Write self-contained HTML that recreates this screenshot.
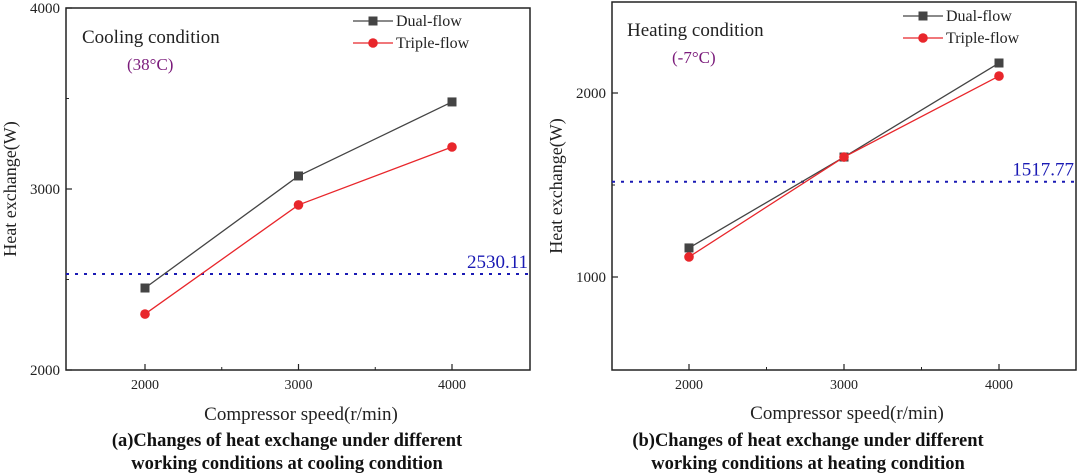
<!DOCTYPE html>
<html><head><meta charset="utf-8"><style>
html,body{margin:0;padding:0;background:#fff;}
svg{display:block;font-family:"Liberation Serif",serif;}
</style></head><body>
<svg id="s" width="1078" height="474"></svg>
<script>
const categories=[2000,3000,4000];
const coolDual=[2453,3072,3481];
const coolTriple=[2309,2912,3232];
const coolRef=[2530.11];
const heatDual=[1158,1652,2163];
const heatTriple=[1109,1652,2092];
const heatRef=[1517.77];
const coolYTicks=[2000,3000,4000];
const heatYTicks=[1000,2000];
const xTicks=[2000,3000,4000];

const NS="http://www.w3.org/2000/svg";
const svg=document.getElementById('s');
function el(t,a,p){const e=document.createElementNS(NS,t);for(const k in a)e.setAttribute(k,a[k]);(p||svg).appendChild(e);return e;}
function txt(s,a,p){const e=el('text',a,p);e.textContent=s;return e;}

function panel(cfg){
  const g=el('g',{});
  
  
  const X=v=>cfg.x0+(v-2000)/1000*cfg.xs;
  const Y=v=>cfg.yA+(v-cfg.vA)/(cfg.vB-cfg.vA)*(cfg.yB-cfg.yA);
  const fr=el('rect',{x:cfg.L,y:cfg.T,width:cfg.R-cfg.L,height:cfg.B-cfg.T,fill:'none',stroke:'#222','stroke-width':1.5},g);
  
  cfg.yTicks.forEach(v=>{
    el('line',{x1:cfg.L,x2:cfg.L+6,y1:Y(v),y2:Y(v),stroke:'#222','stroke-width':1.2},g);
    const t=txt(String(v),{x:cfg.L-6,y:Y(v)+5,'text-anchor':'end','font-size':15,fill:'#222'},g);
    
    const m=v+500;
    if(Y(m)>cfg.T+1) el('line',{x1:cfg.L,x2:cfg.L+3,y1:Y(m),y2:Y(m),stroke:'#222','stroke-width':1},g);
    const m2=v-500;
    if(Y(m2)<cfg.B-1) el('line',{x1:cfg.L,x2:cfg.L+3,y1:Y(m2),y2:Y(m2),stroke:'#222','stroke-width':1},g);
  });
  xTicks.forEach(v=>{
    el('line',{x1:X(v),x2:X(v),y1:cfg.B,y2:cfg.B-6,stroke:'#222','stroke-width':1.2},g);
    const t=txt(String(v),{x:X(v),y:cfg.B+19,'text-anchor':'middle','font-size':14,fill:'#222'},g);
    
    if(v<4000) el('line',{x1:X(v+500),x2:X(v+500),y1:cfg.B,y2:cfg.B-3,stroke:'#222','stroke-width':1},g);
  });
  const ry=Y(cfg.ref[0]);
  const rl=el('line',{x1:cfg.L,x2:cfg.R,y1:ry,y2:ry,stroke:'#1a1ab4','stroke-width':2,'stroke-dasharray':'3,6'},g);
  
  const rt=txt(cfg.ref[0].toFixed(2),{x:cfg.R-2,y:ry-6,'text-anchor':'end','font-size':19,fill:'#1a1ab4'},g);
  
  function series(vals,color,shape,name){
    const sg=el('g',{},g);
    
    el('polyline',{points:vals.map((v,i)=>X(categories[i])+','+Y(v)).join(' '),fill:'none',stroke:color,'stroke-width':1.3},sg);
    vals.forEach((v,i)=>{
      const x=X(categories[i]),y=Y(v);
      if(shape==='sq') el('rect',{x:x-4.5,y:y-4.5,width:9,height:9,fill:color},sg);
      else el('circle',{cx:x,cy:y,r:4.8,fill:color},sg);
    });
  }
  series(cfg.dual,'#444','sq','dual-flow-series');
  series(cfg.triple,'#e8262b','c','triple-flow-series');
  const lg=el('g',{},g);
  const lx=cfg.lx,ly=cfg.ly;
  el('line',{x1:lx,x2:lx+40,y1:ly,y2:ly,stroke:'#444','stroke-width':1.3},lg);
  el('rect',{x:lx+15.5,y:ly-4.5,width:9,height:9,fill:'#444'},lg);
  txt('Dual-flow',{x:lx+43,y:ly+5,'font-size':16,fill:'#222'},lg);
  el('line',{x1:lx,x2:lx+40,y1:ly+22,y2:ly+22,stroke:'#e8262b','stroke-width':1.3},lg);
  el('circle',{cx:lx+20,cy:ly+22,r:4.8,fill:'#e8262b'},lg);
  txt('Triple-flow',{x:lx+43,y:ly+27,'font-size':16,fill:'#222'},lg);
  const c1=txt(cfg.cond,{x:cfg.cx,y:cfg.cy,'font-size':19,fill:'#222'},g);
  
  const c2=txt(cfg.temp,{x:cfg.cx+45,y:cfg.cy+27,'font-size':17,fill:'#7a1a7a'},g);
  
  const yt=txt('Heat exchange(W)',{transform:`translate(${cfg.L-50},${(cfg.T+cfg.B)/2}) rotate(-90)`,'text-anchor':'middle','font-size':18,fill:'#222'},g);
  
  const xt=txt('Compressor speed(r/min)',{x:(cfg.L+cfg.R)/2+3,y:cfg.xty,'text-anchor':'middle','font-size':19,fill:'#222'},g);
  
  cfg.caption.forEach((s,i)=>{
    const c=txt(s,{x:cfg.capx,y:446+i*23,'text-anchor':'middle','font-size':18.5,'font-weight':'bold',fill:'#111'},g);
    
  });
}
panel({name:'cooling-chart',L:66,R:530,T:8,B:370,x0:145,xs:153.5,vA:4000,yA:8,vB:2000,yB:370,
  yTicks:coolYTicks,ref:coolRef,dual:coolDual,triple:coolTriple,lx:353,ly:21,
  cond:'Cooling condition',temp:'(38°C)',cx:82,cy:43,xty:420,capx:287,
  caption:['(a)Changes of heat exchange under different','working conditions at cooling condition']});
panel({name:'heating-chart',L:612,R:1076,T:2,B:370,x0:689,xs:155,vA:2000,yA:93,vB:1000,yB:277,
  yTicks:heatYTicks,ref:heatRef,dual:heatDual,triple:heatTriple,lx:903,ly:16,
  cond:'Heating condition',temp:'(-7°C)',cx:627,cy:36,xty:419,capx:808,
  caption:['(b)Changes of heat exchange under different','working conditions at heating condition']});
</script>
</body></html>
